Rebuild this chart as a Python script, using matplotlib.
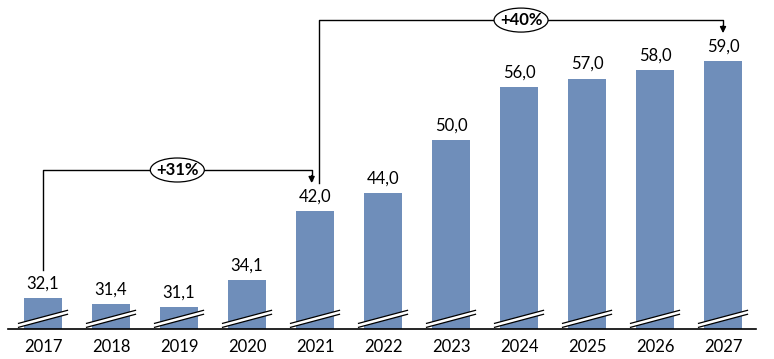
import matplotlib.pyplot as plt
from matplotlib.patches import Ellipse, Polygon

years = ['2017', '2018', '2019', '2020', '2021', '2022', '2023', '2024', '2025', '2026', '2027']
values = [32.1, 31.4, 31.1, 34.1, 42.0, 44.0, 50.0, 56.0, 57.0, 58.0, 59.0]
growth = [('+31%', 0, 4), ('+40%', 4, 10)]

plt.rcParams['font.family'] = ['Lato', 'DejaVu Sans']

bar_color = '#6F8EBA'
ymin, ymax = 28.58, 65.93

fig = plt.figure(figsize=(7.74, 3.59), dpi=100)
ax = fig.add_axes([8 / 774, 30 / 359, 748 / 774, 329 / 359])

x = list(range(len(years)))
ax.bar(x, [v - ymin for v in values], bottom=ymin, width=0.56, color=bar_color, zorder=2)

for i, v in enumerate(values):
    label = f'{v:.1f}'.replace('.', ',')
    ax.text(i, v + 0.75, label, ha='center', va='bottom', fontsize=12, color='black')

    # axis break marks
    y0 = 28.77
    dx, dy, gap = 0.36, 1.48, 0.45
    ax.add_patch(Polygon([(i - dx, y0), (i + dx, y0 + dy), (i + dx, y0 + dy + gap), (i - dx, y0 + gap)],
                         closed=True, facecolor='white', edgecolor='none', zorder=3))
    ax.plot([i - dx, i + dx], [y0, y0 + dy], color='black', lw=0.9, zorder=4)
    ax.plot([i - dx, i + dx], [y0 + gap, y0 + dy + gap], color='black', lw=0.9, zorder=4)

# growth brackets
# first: from 2017 up to bracket, over, arrow down onto 2021
ax.plot([0, 0, 3.95, 3.95], [35.28, 46.63, 46.63, 45.5], color='black', lw=1, zorder=5)
ax.annotate('', xy=(3.95, 45.15), xytext=(3.95, 46.0),
            arrowprops=dict(arrowstyle='-|>', color='black', lw=1, mutation_scale=9, shrinkA=0, shrinkB=0))
# second: from 2021 up, over, arrow down onto 2027
ax.plot([4.06, 4.06, 10, 10], [45.15, 63.65, 63.65, 62.6], color='black', lw=1, zorder=5)
ax.annotate('', xy=(10, 62.17), xytext=(10, 63.0),
            arrowprops=dict(arrowstyle='-|>', color='black', lw=1, mutation_scale=9, shrinkA=0, shrinkB=0))

for (txt, a, b), (cx, cy) in zip(growth, [(1.975, 46.63), (7.03, 63.65)]):
    ax.add_patch(Ellipse((cx, cy), width=54 / 68, height=24 / 8.81,
                         facecolor='white', edgecolor='black', lw=0.9, zorder=6))
    ax.text(cx, cy, txt, ha='center', va='center', fontsize=12, fontweight='bold', zorder=7)

ax.set_xlim(-0.515, 10.485)
ax.set_ylim(ymin, ymax)
ax.set_xticks(x)
ax.set_xticklabels(years, fontsize=12)
ax.tick_params(axis='x', length=0, pad=7)
ax.set_yticks([])
for s in ['top', 'right', 'left']:
    ax.spines[s].set_visible(False)
ax.spines['bottom'].set_linewidth(1.2)
ax.spines['bottom'].set_zorder(5)

fig.savefig('out.png', dpi=100)
plt.close(fig)
